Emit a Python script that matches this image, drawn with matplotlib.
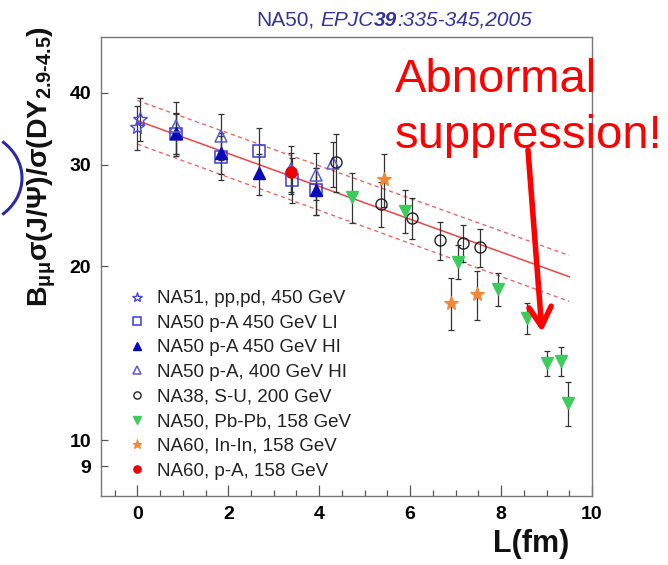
import matplotlib
matplotlib.use("Agg")
import matplotlib.pyplot as plt
import matplotlib.ticker as mticker
from matplotlib.lines import Line2D
from matplotlib.patches import Arc
import numpy as np

plt.rcParams['font.family'] = ['Liberation Sans', 'DejaVu Sans']
plt.rcParams['mathtext.fontset'] = 'custom'
plt.rcParams['mathtext.rm'] = 'Liberation Sans:bold'
plt.rcParams['mathtext.bf'] = 'Liberation Sans:bold'
plt.rcParams['mathtext.it'] = 'Liberation Sans:bold'
plt.rcParams['mathtext.default'] = 'bf'

# ---------------- data ----------------
na51_L = [0.00, 0.05]
na51_y = [34.9, 36.1]
na51_e = [3.1, 3.1]

na50LI_L = [0.84, 1.85, 2.67, 3.40, 3.94]
na50LI_y = [33.9, 31.0, 31.7, 28.3, 27.1]
na50LI_e = [2.8, 2.7, 3.0, 2.5, 2.5]

na50HI_L = [0.84, 1.85, 2.67, 3.94]
na50HI_y = [34.1, 31.5, 29.0, 27.1]
na50HI_e = [2.8, 2.6, 2.4, 2.5]

na50_400_L = [0.84, 1.85, 3.38, 3.94, 4.30]
na50_400_y = [35.0, 33.7, 29.5, 28.8, 30.2]
na50_400_e = [3.6, 3.1, 2.8, 2.7, 2.7]

na38_L = [4.38, 5.36, 6.05, 6.65, 7.17, 7.54]
na38_y = [30.4, 25.7, 24.3, 22.2, 22.0, 21.6]
na38_e = [3.5, 2.3, 2.0, 1.7, 1.65, 1.65]

pbpb_L = [4.71, 5.89, 7.05, 7.93, 8.57, 9.02, 9.32, 9.48]
pbpb_y = [26.4, 25.0, 20.4, 18.3, 16.3, 13.6, 13.7, 11.6]
pbpb_e = [2.6, 2.1, 1.4, 1.2, 1.0, 0.7, 0.8, 1.0]

inin_L = [5.42, 6.90, 7.47]
inin_y = [28.4, 17.3, 17.9]
inin_e = [3.0, 1.8, 1.75]

na60pA_L = [3.39]
na60pA_y = [29.2]
na60pA_e = [2.3]

fit_L = [0.0, 9.5]
fit_y = [35.8, 19.2]
fit_up = [38.8, 20.9]
fit_lo = [32.6, 17.4]

labels = ["NA51, pp,pd, 450 GeV", "NA50 p-A 450 GeV LI", "NA50 p-A 450 GeV HI",
          "NA50 p-A, 400 GeV HI", "NA38, S-U, 200 GeV", "NA50, Pb-Pb, 158 GeV",
          "NA60, In-In, 158 GeV", "NA60, p-A, 158 GeV"]
yticks = [9, 10, 20, 30, 40]
xticks = [0, 2, 4, 6, 8, 10]

# ---------------- figure ----------------
W, H = 668, 565
fig = plt.figure(figsize=(W / 100, H / 100), dpi=100)
ax = fig.add_axes([101 / W, 1 - 496 / H, (592 - 101) / W, (496 - 37) / H])
ax.set_yscale('log')
ax.set_xlim(-0.8, 10)
ax.set_ylim(8, 50)

ax.plot(fit_L, fit_y, color='#ee4444', lw=1.1, zorder=1)
ax.plot(fit_L, fit_up, color='#ee6666', lw=1.0, ls=(0, (3, 2.5)), zorder=1)
ax.plot(fit_L, fit_lo, color='#ee6666', lw=1.0, ls=(0, (3, 2.5)), zorder=1)

series = [
    (na51_L, na51_y, na51_e, dict(marker='*', mfc='none', mec='#4a4ae0', ms=10.5, mew=1.0)),
    (na50LI_L, na50LI_y, na50LI_e, dict(marker='s', mfc='none', mec='#3a3ad8', ms=8, mew=1.1)),
    (na50HI_L, na50HI_y, na50HI_e, dict(marker='^', mfc='#0a0ab8', mec='#0a0ab8', ms=8, mew=1.0)),
    (na50_400_L, na50_400_y, na50_400_e, dict(marker='^', mfc='none', mec='#5a5ad8', ms=9, mew=1.1)),
    (na38_L, na38_y, na38_e, dict(marker='o', mfc='none', mec='#222222', ms=8, mew=1.0)),
    (pbpb_L, pbpb_y, pbpb_e, dict(marker='v', mfc='#3ccc5c', mec='#3ccc5c', ms=8, mew=1.0)),
    (inin_L, inin_y, inin_e, dict(marker='*', mfc='#f08838', mec='#f08838', ms=10, mew=0.8)),
    (na60pA_L, na60pA_y, na60pA_e, dict(marker='o', mfc='#ee0000', mec='#ee0000', ms=8, mew=1.0)),
]
handles = []
for (L, y, e, st), lab in zip(series, labels):
    ax.errorbar(L, y, yerr=e, fmt='none', ecolor='#333333', elinewidth=0.9,
                capsize=2.5, capthick=0.9, zorder=2)
    ax.plot(L, y, ls='none', zorder=3, **st)
    hst = dict(st)
    hst['ms'] = st['ms'] * 0.65
    handles.append(Line2D([], [], ls='none', **hst))

ax.yaxis.set_major_locator(mticker.FixedLocator(yticks))
ax.yaxis.set_major_formatter(mticker.FixedFormatter([str(t) for t in yticks]))
ax.yaxis.set_minor_locator(mticker.NullLocator())
ax.xaxis.set_major_locator(mticker.FixedLocator(xticks))
ax.xaxis.set_minor_locator(mticker.MultipleLocator(0.5))
ax.tick_params(axis='both', which='major', direction='in', length=8, width=0.9,
               color='#555555', labelsize=14, pad=7)
ax.tick_params(axis='x', which='minor', direction='in', length=4, width=0.9, color='#555555')
ax.tick_params(axis='y', which='major', length=5)
for lab in ax.get_xticklabels() + ax.get_yticklabels():
    lab.set_fontweight('bold')
for sp in ax.spines.values():
    sp.set_color('#777777')
    sp.set_linewidth(1.0)

leg = ax.legend(handles, labels, loc='upper left', bbox_to_anchor=(128 / W, 1 - 290 / H),
                bbox_transform=fig.transFigure, frameon=False, fontsize=13.5,
                handlelength=1.0, handletextpad=0.55, labelspacing=0.40, borderpad=0,
                borderaxespad=0)
for t in leg.get_texts():
    t.set_color('#222222')

# axis labels
fig.text(42 / W, 1 - 166 / H, r'$B_{\mu\mu}\sigma(J/\Psi)/\sigma(DY_{2.9\text{-}4.5})$',
         rotation=90, ha='center', va='center', fontsize=20.5, color='#111111')
fig.text(531 / W, 1 - 544 / H, 'L(fm)', ha='center', va='center', fontsize=22,
         fontweight='bold', color='#111111')

# annotation text
fig.text(395 / W, 1 - 92 / H, 'Abnormal', fontsize=34, color='#ff0000', va='baseline', ha='left')
fig.text(395 / W, 1 - 148 / H, 'suppression!', fontsize=34, color='#ff0000', va='baseline', ha='left')
ax.annotate('', xy=(542 / W, 1 - 332 / H), xytext=(528 / W, 1 - 150 / H),
            xycoords='figure fraction', textcoords='figure fraction',
            arrowprops=dict(arrowstyle='->,head_length=0.7,head_width=0.4', color='#ff0000',
                            lw=4, shrinkA=0, shrinkB=0, mutation_scale=20))

# blue arc remnant at left
fig.add_artist(Arc((-34 / W, 1 - 178 / H), 112 / W, 96 / H, theta1=-50, theta2=50,
                   color='#2a2aa8', lw=2.2, transform=fig.transFigure))

# title made of pieces
fig.canvas.draw()
r = fig.canvas.get_renderer()
tcol = '#33339a'
fs = 15
pieces = [("NA50,", 'normal', 'normal', 0.28), ("EPJC", 'italic', 'normal', 0),
          ("39", 'italic', 'bold', 0), (":335-345,2005", 'italic', 'normal', 0)]
objs = []
widths = []
for s, sty, wt, gap in pieces:
    t = fig.text(0, 0, s, fontsize=fs, style=sty, fontweight=wt, color=tcol, va='baseline')
    w = t.get_window_extent(r).width
    objs.append(t)
    widths.append(w + gap * fs * 100 / 72)
total = sum(widths)
x0 = 394 - total / 2
for t, w in zip(objs, widths):
    t.set_position((x0 / W, 1 - 26 / H))
    x0 += w

fig.savefig('out.png', dpi=100)
